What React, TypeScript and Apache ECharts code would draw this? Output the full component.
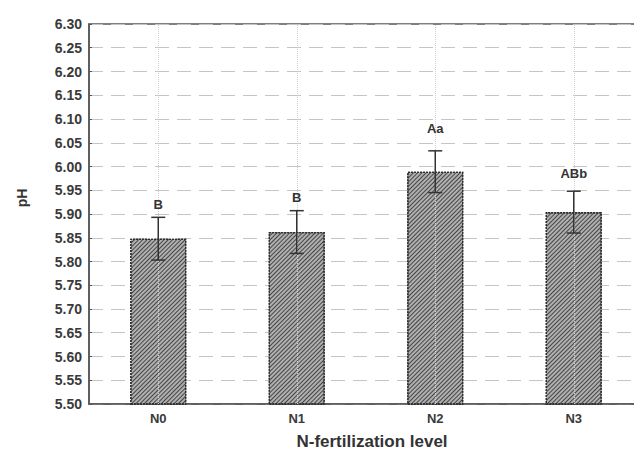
import React, { useEffect, useRef } from "react";
import * as echarts from "echarts";

const categories = ["N0", "N1", "N2", "N3"];
const means = [5.848, 5.862, 5.989, 5.904];
const errors = [0.045, 0.045, 0.044, 0.044];
const letters = ["B", "B", "Aa", "ABb"];
const letterLevels = [5.919, 5.934, 6.081, 5.986];
const yTicks = { min: 5.5, max: 6.3, step: 0.05 };

export default function App() {
  const ref = useRef<HTMLDivElement>(null);
  useEffect(() => {
    if (!ref.current) return;
    const chart = echarts.init(ref.current, null, { renderer: "svg" });
    const font = "'Liberation Sans', Arial, sans-serif";
    const errData = categories.map((c, i) => [i, means[i] - errors[i], means[i] + errors[i], letterLevels[i]]);
    chart.setOption({
      animation: false,
      backgroundColor: "#ffffff",
      grid: {
        left: 89,
        top: 24,
        width: 554,
        height: 380,
        outerBoundsMode: "none",
        containLabel: false,
        show: true,
        borderColor: "#555",
        borderWidth: 1.5,
        backgroundColor: "transparent",
      },
      xAxis: {
        type: "category",
        data: categories,
        axisLine: { lineStyle: { color: "#555", width: 1.5 } },
        axisTick: { show: false },
        axisLabel: { color: "#3a3a3a", fontFamily: font, fontWeight: "bold", fontSize: 13, margin: 8 },
        splitLine: { show: false },
      },
      yAxis: {
        type: "value",
        min: yTicks.min,
        max: yTicks.max,
        interval: yTicks.step,
        axisLine: { show: true, lineStyle: { color: "#555", width: 1.5 } },
        axisTick: { show: true, inside: true, length: 3, lineStyle: { color: "#555" } },
        axisLabel: {
          color: "#3a3a3a",
          fontFamily: font,
          fontWeight: "bold",
          fontSize: 14,
          margin: 7,
          formatter: (v: number) => v.toFixed(2),
        },
        splitLine: { show: true, lineStyle: { color: "#c4c4c4", type: [14, 8], width: 1 } },
      },
      series: [
        {
          type: "line",
          data: [],
          z: 0,
          silent: true,
          markLine: {
            silent: true,
            symbol: "none",
            label: { show: false },
            lineStyle: { color: "#cfcfcf", type: "dotted", width: 1 },
            data: categories.map((c) => ({ xAxis: c })),
          },
        },
        {
          type: "bar",
          data: means,
          barWidth: "40.5%",
          z: 2,
          itemStyle: {
            color: "#b0b0b0",
            borderColor: "#2e2e2e",
            borderWidth: 1.3,
            borderType: [2, 1],
            decal: {
              symbol: "rect",
              symbolSize: 1,
              color: "rgba(50,50,50,0.85)",
              dashArrayX: [1, 0],
              dashArrayY: [1, 2],
              rotation: -Math.PI / 4,
            },
          },
        },
        {
          type: "custom",
          z: 5,
          data: errData,
          renderItem: (params: any, api: any) => {
            const x = api.value(0);
            const lo = api.coord([x, api.value(1)]);
            const hi = api.coord([x, api.value(2)]);
            const lab = api.coord([x, api.value(3)]);
            const half = 7;
            const style = { stroke: "#333", lineWidth: 1.5 };
            return {
              type: "group",
              children: [
                { type: "line", shape: { x1: lo[0], y1: lo[1], x2: hi[0], y2: hi[1] }, style },
                { type: "line", shape: { x1: hi[0] - half, y1: hi[1], x2: hi[0] + half, y2: hi[1] }, style },
                { type: "line", shape: { x1: lo[0] - half, y1: lo[1], x2: lo[0] + half, y2: lo[1] }, style },
                {
                  type: "text",
                  x: lab[0],
                  y: lab[1],
                  style: {
                    text: letters[params.dataIndex],
                    fill: "#333",
                    font: `bold 13px ${font}`,
                    textAlign: "center",
                    textVerticalAlign: "middle",
                  },
                },
              ],
            };
          },
        },
      ],
      graphic: [
        {
          type: "text",
          x: 22,
          y: 198,
          rotation: Math.PI / 2,
          style: {
            text: "pH",
            fill: "#333",
            font: `bold 14px ${font}`,
            textAlign: "center",
            textVerticalAlign: "middle",
          },
        },
        {
          type: "text",
          x: 372,
          y: 441,
          style: {
            text: "N-fertilization level",
            fill: "#333",
            font: `bold 17px ${font}`,
            textAlign: "center",
            textVerticalAlign: "middle",
          },
        },
      ],
    });
    return () => chart.dispose();
  }, []);
  return (
    <div
      ref={ref}
      style={{ position: "fixed", left: 0, top: 0, width: 634, height: 453, overflow: "hidden" }}
    />
  );
}
